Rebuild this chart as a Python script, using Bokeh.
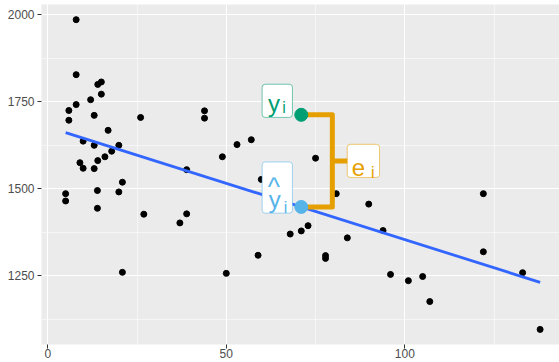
import numpy as np
from bokeh.plotting import figure
from bokeh.models import Range1d, FixedTicker, Label
from bokeh.embed import file_html
from bokeh.resources import INLINE

# ---- data ----
x_vals = [7.95, 7.95, 14.0, 15.0, 15.0, 12.0, 7.95, 5.9, 5.9, 13.0,
          26.0, 16.9, 9.9, 13.0, 17.9, 19.9, 9.0, 9.9, 14.0, 16.0,
          13.0, 20.9, 38.9, 5.0, 5.0, 13.9, 13.9, 19.9, 26.9, 37.0,
          38.9, 20.9, 43.9, 43.9, 53.0, 57.0, 48.9, 75.0, 59.8, 80.8,
          89.9, 93.9, 67.9, 71.0, 72.9, 83.9, 77.8, 77.8, 58.9, 50.0,
          96.0, 101.0, 105.0, 107.0, 122.0, 122.0, 133.0, 137.9]
y_vals = [1986, 1828, 1800, 1807, 1772, 1756, 1742, 1725, 1697, 1711,
          1705, 1668, 1637, 1625, 1608, 1625, 1575, 1559, 1581, 1592,
          1558, 1519, 1555, 1486, 1465, 1495, 1444, 1491, 1427, 1402,
          1428, 1260, 1724, 1703, 1627, 1641, 1592, 1588, 1527, 1486,
          1456, 1380, 1370, 1379, 1394, 1359, 1308, 1300, 1309, 1257,
          1254, 1236, 1248, 1176, 1486, 1319, 1259, 1096]

# fitted regression line (as drawn in the reference)
fit_x = [5.0, 137.9]
fit_y = [1661.5, 1231.3]

# highlighted observation
obs_x = 71.0
obs_y = 1712.6
bracket_x = 79.7
bracket_tick_x = 84.2

x_ticks = [0, 50, 100, 150]
x_minor = [25, 75, 125]
y_ticks = [1250, 1500, 1750, 2000]
y_minor = [1125, 1375, 1625, 1875]

GREEN = "#009E73"
BLUE = "#56B4E9"
ORANGE = "#E69F00"
FONT = "Liberation Sans"

yhat = float(np.interp(obs_x, fit_x, fit_y))
mid_y = (obs_y + yhat) / 2

p = figure(width=559, height=362, output_backend="svg", toolbar_location=None,
           x_range=Range1d(-1.76, 143.33), y_range=Range1d(1052.6, 2029.6),
           min_border_left=41, min_border_right=0, min_border_top=4,
           min_border_bottom=18)
p.background_fill_color = "#EBEBEB"
p.border_fill_color = "white"
p.outline_line_color = None

p.xaxis.ticker = FixedTicker(ticks=x_ticks, minor_ticks=x_minor)
p.yaxis.ticker = FixedTicker(ticks=y_ticks, minor_ticks=y_minor)
for ax in (p.xaxis, p.yaxis):
    ax.axis_line_color = None
    ax.major_tick_line_color = "#333333"
    ax.major_tick_line_width = 1
    ax.major_tick_out = 4
    ax.major_tick_in = 0
    ax.minor_tick_line_color = None
    ax.major_label_text_font = FONT
    ax.major_label_text_font_size = "12px"
    ax.major_label_text_color = "#4D4D4D"
p.xaxis.major_label_standoff = 0
p.yaxis.major_label_standoff = 3

for g in (p.xgrid, p.ygrid):
    g.grid_line_color = "white"
    g.grid_line_width = 1.1
    g.minor_grid_line_color = "white"
    g.minor_grid_line_width = 0.55

# data points
p.scatter(x_vals, y_vals, size=6, color="black")
# regression line
p.line(fit_x, fit_y, line_color="#3366FF", line_width=2.8)

# residual bracket
p.line([obs_x, bracket_x, bracket_x, obs_x], [obs_y, obs_y, yhat, yhat],
       line_color=ORANGE, line_width=5, line_join="round")
p.line([bracket_x, bracket_tick_x], [mid_y, mid_y],
       line_color=ORANGE, line_width=5)

p.scatter([obs_x], [obs_y], size=13, color=GREEN)
p.scatter([obs_x], [yhat], size=13, color=BLUE)


def box(x, y, dx, dy, w, h, color):
    p.add_layout(Label(x=x, y=y, x_offset=dx, y_offset=dy, text=" ",
                       text_font_size="1px", text_align="center",
                       text_baseline="middle",
                       background_fill_color="white",
                       border_line_color=color, border_line_alpha=0.55,
                       border_line_width=1, border_radius=3,
                       padding=dict(left=w // 2, right=w // 2,
                                    top=h // 2, bottom=h // 2)))


def txt(x, y, dx, dy, s, size, color):
    p.add_layout(Label(x=x, y=y, x_offset=dx, y_offset=dy, text=s,
                       text_font=FONT, text_font_size=size, text_color=color,
                       text_align="left", text_baseline="alphabetic"))


# y_i label
box(obs_x, obs_y, -24, 14, 30, 33, GREEN)
txt(obs_x, obs_y, -33.2, 11, "y", "24px", GREEN)
txt(obs_x, obs_y, -18.9, 7, "i", "16px", GREEN)

# hat y_i label
box(obs_x, yhat, -24, 19.4, 30, 50, BLUE)
txt(obs_x, yhat, -33.4, 19.8, "^", "26px", BLUE)
txt(obs_x, yhat, -32.5, 7.2, "y", "24px", BLUE)
txt(obs_x, yhat, -17.6, -1, "i", "16px", BLUE)

# e_i label
box(bracket_tick_x, mid_y, 15, 0, 33, 32, ORANGE)
txt(bracket_tick_x, mid_y, 3.4, -7, "e", "24px", ORANGE)
txt(bracket_tick_x, mid_y, 22.5, -12.1, "i", "16px", ORANGE)

open("out.html", "w").write(file_html(p, INLINE))
